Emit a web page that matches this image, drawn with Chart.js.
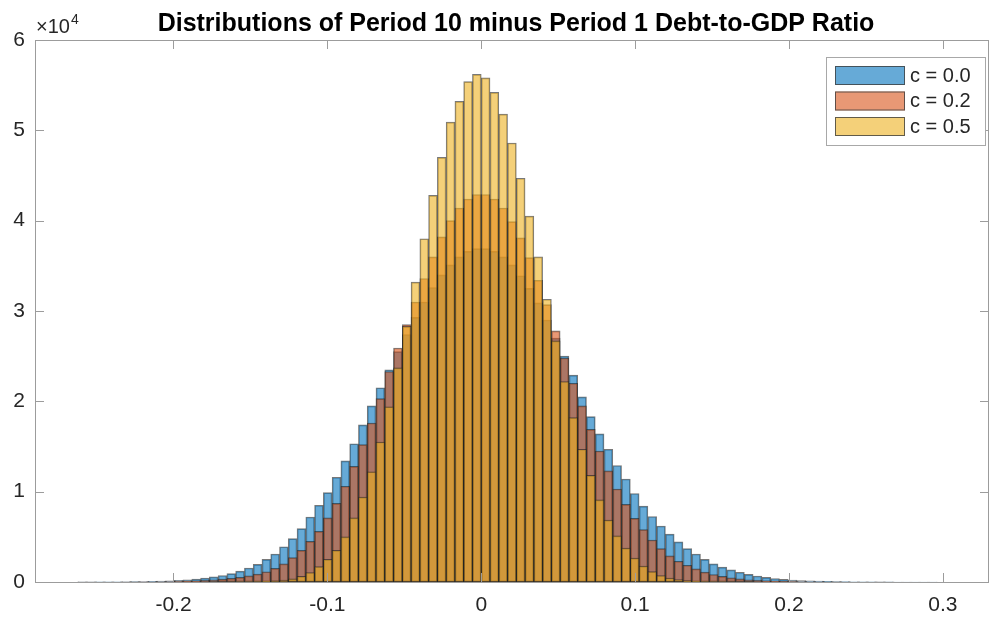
<!DOCTYPE html>
<html>
<head>
<meta charset="utf-8">
<title>Period 10 minus Period 1 Debt-to-GDP</title>
<script src="https://cdn.jsdelivr.net/npm/chart.js@4.4.1/dist/chart.umd.min.js"></script>
<style>
  html, body { margin: 0; padding: 0; background: #fff; }
  #myChart { display: block; }
</style>
</head>
<body>
<canvas id="myChart" width="992" height="617"></canvas>
<script>
"use strict"

// histogram bin centres, bin width 0.0057
const binCenters = [
  -0.25935, -0.25365, -0.24795, -0.24225, -0.23655, -0.23085, -0.22515, -0.21945, -0.21375, -0.20805,
  -0.20235, -0.19665, -0.19095, -0.18525, -0.17955, -0.17385, -0.16815, -0.16245, -0.15675, -0.15105,
  -0.14535, -0.13965, -0.13395, -0.12825, -0.12255, -0.11685, -0.11115, -0.10545, -0.09975, -0.09405,
  -0.08835, -0.08265, -0.07695, -0.07125, -0.06555, -0.05985, -0.05415, -0.04845, -0.04275, -0.03705,
  -0.03135, -0.02565, -0.01995, -0.01425, -0.00855, -0.00285,
  0.00285, 0.00855, 0.01425, 0.01995, 0.02565, 0.03135, 0.03705, 0.04275, 0.04845, 0.05415,
  0.05985, 0.06555, 0.07125, 0.07695, 0.08265, 0.08835, 0.09405, 0.09975, 0.10545, 0.11115,
  0.11685, 0.12255, 0.12825, 0.13395, 0.13965, 0.14535, 0.15105, 0.15675, 0.16245, 0.16815,
  0.17385, 0.17955, 0.18525, 0.19095, 0.19665, 0.20235, 0.20805, 0.21375, 0.21945, 0.22515,
  0.23085, 0.23655, 0.24225, 0.24795, 0.25365, 0.25935, 0.26505, 0.27075, 0.27645, 0.28215,
  0.28785, 0.29355, 0.29925, 0.30495, 0.31065
];

// counts per bin
const c00 = [
  5, 7, 10, 15, 22, 30, 42, 57, 78, 105, 140, 190, 250, 330, 430, 560, 720, 930, 1200, 1550,
  1950, 2500, 3100, 3900, 4800, 5900, 7200, 8500, 9900, 11600, 13400, 15300, 17400, 19500, 21500, 23500,
  25500, 27400, 29300, 31000, 32600, 34000, 35100, 36000, 36600, 36900,
  36900, 36600, 36000, 35100, 33900, 32500, 30900, 29000, 27000, 25000, 22900, 20500, 18300, 16400,
  14700, 12900, 11400, 9800, 8400, 7250, 6200, 5300, 4450, 3700, 3100, 2500, 2000, 1650, 1350, 1080,
  850, 660, 510, 390, 300, 225, 170, 125, 92, 66, 48, 34, 24, 17, 12, 8, 6, 4, 3, 2, 1, 1, 0, 0, 0
];
const c02 = [
  1, 1, 2, 3, 4, 6, 9, 14, 21, 31, 45, 65, 92, 130, 180, 240, 310, 400, 520, 680,
  880, 1130, 1500, 2000, 2700, 3500, 4500, 5600, 7100, 8700, 10600, 12800, 15200, 17600, 20300, 23300,
  25900, 28500, 31000, 33600, 36000, 38200, 40000, 41400, 42400, 42900,
  42900, 42400, 41400, 39900, 38100, 35900, 33400, 30700, 27800, 24800, 22000, 19500, 16900, 14500,
  12300, 10300, 8600, 7050, 5800, 4650, 3700, 2900, 2300, 1850, 1450, 1100, 830, 620, 460, 340,
  250, 180, 130, 92, 65, 45, 31, 21, 14, 9, 6, 4, 3, 2, 1, 1, 0, 0, 0, 0, 0, 0, 0, 0, 0
];
const c05 = [
  0, 0, 0, 0, 0, 0, 0, 0, 0, 0, 0, 0, 0, 0, 0, 1, 3, 6, 12, 22,
  40, 70, 120, 200, 350, 620, 1050, 1700, 2500, 3500, 5000, 7100, 9400, 12200, 15500, 19400,
  23700, 28300, 33200, 38000, 42800, 47000, 50900, 53200, 55400, 56200,
  55800, 54200, 51800, 48600, 44700, 40500, 36000, 31300, 26700, 22200, 18200, 14700, 11800, 9100,
  6850, 5100, 3750, 2650, 1750, 1150, 720, 440, 260, 150, 85, 46, 24, 12, 6, 3,
  1, 0, 0, 0, 0, 0, 0, 0, 0, 0, 0, 0, 0, 0, 0, 0, 0, 0, 0, 0, 0, 0, 0, 0, 0
];

const seriesNames = ['c = 0.0', 'c = 0.2', 'c = 0.5'];
const xTicks = [-0.2, -0.1, 0, 0.1, 0.2, 0.3];
const xTickLabels = ['-0.2', '-0.1', '0', '0.1', '0.2', '0.3'];
const yTicks = [0, 10000, 20000, 30000, 40000, 50000, 60000];
const yTickLabels = ['0', '1', '2', '3', '4', '5', '6'];

const FONT = '"Liberation Sans", Arial, Helvetica, sans-serif';
const AXIS_GREY = '#9c9c9c';
const TEXT_GREY = '#262626';

function toPoints(values) {
  return binCenters.map((x, i) => ({x: x, y: values[i]}));
}

// axes box, inward ticks, title, exponent and legend the way matlab draws them
const matlabLook = {
  id: 'matlabLook',
  afterDraw(chart) {
    const ctx = chart.ctx;
    const a = chart.chartArea;
    const xs = chart.scales.x;
    const ys = chart.scales.y;
    ctx.save();

    ctx.strokeStyle = AXIS_GREY;
    ctx.lineWidth = 1;
    ctx.strokeRect(a.left + 0.5, a.top + 0.5, a.right - a.left - 1, a.bottom - a.top);
    ctx.beginPath();
    xTicks.forEach(v => {
      const px = Math.round(xs.getPixelForValue(v)) + 0.5;
      ctx.moveTo(px, a.bottom); ctx.lineTo(px, a.bottom - 9);
      ctx.moveTo(px, a.top); ctx.lineTo(px, a.top + 9);
    });
    yTicks.forEach(v => {
      const py = Math.round(ys.getPixelForValue(v)) + 0.5;
      ctx.moveTo(a.left, py); ctx.lineTo(a.left + 9, py);
      ctx.moveTo(a.right, py); ctx.lineTo(a.right - 9, py);
    });
    ctx.stroke();

    // title
    ctx.fillStyle = '#000';
    ctx.font = 'bold 25px ' + FONT;
    ctx.textAlign = 'center';
    ctx.textBaseline = 'alphabetic';
    ctx.fillText('Distributions of Period 10 minus Period 1 Debt-to-GDP Ratio', (a.left + a.right) / 2 + 4, 31);

    // x10^4 above the y axis
    ctx.fillStyle = TEXT_GREY;
    ctx.textAlign = 'left';
    ctx.font = '20px ' + FONT;
    ctx.fillText('\u00d710', a.left + 1, 33);
    const w = ctx.measureText('\u00d710').width;
    ctx.font = '14px ' + FONT;
    ctx.fillText('4', a.left + 2 + w, 24);

    // legend
    const lx = a.right - 163, ly = a.top + 17, lw = 159, lh = 88;
    ctx.fillStyle = '#fff';
    ctx.fillRect(lx, ly, lw, lh);
    ctx.strokeStyle = '#a8a8a8';
    ctx.strokeRect(lx + 0.5, ly + 0.5, lw, lh);
    chart.data.datasets.forEach((ds, i) => {
      const ry = ly + 9 + i * 25.5;
      ctx.fillStyle = ds.backgroundColor;
      ctx.fillRect(lx + 9, ry, 70, 19);
      ctx.strokeStyle = 'rgba(60,60,60,0.8)';
      ctx.strokeRect(lx + 9.5, ry + 0.5, 69, 18);
      ctx.fillStyle = TEXT_GREY;
      ctx.font = '20px ' + FONT;
      ctx.textBaseline = 'middle';
      ctx.fillText(ds.label, lx + 84, ry + 10);
    });
    ctx.restore();
  }
};

let myChart = document.getElementById('myChart').getContext('2d');

let histChart = new Chart(myChart, {
  type: 'bar',
  data: {
    datasets: [
      {label: seriesNames[0], data: toPoints(c00), backgroundColor: 'rgba(0,114,189,0.6)', order: 3},
      {label: seriesNames[1], data: toPoints(c02), backgroundColor: 'rgba(217,83,25,0.6)', order: 2},
      {label: seriesNames[2], data: toPoints(c05), backgroundColor: 'rgba(237,177,32,0.6)', order: 1}
    ]
  },
  options: {
    responsive: false,
    animation: false,
    devicePixelRatio: 1,
    layout: {padding: {top: 40, right: 3, left: 0, bottom: 0}},
    datasets: {
      bar: {
        grouped: false,
        barPercentage: 1,
        categoryPercentage: 1,
        borderWidth: 1,
        borderColor: 'rgba(30,30,30,0.6)',
        borderSkipped: false
      }
    },
    plugins: {
      legend: {display: false},
      title: {display: false},
      tooltip: {enabled: false}
    },
    scales: {
      x: {
        type: 'linear',
        offset: false,
        min: -0.29,
        max: 0.33,
        grid: {display: false, drawTicks: false},
        border: {display: false},
        afterBuildTicks: s => { s.ticks = xTicks.map(v => ({value: v})); },
        afterFit: s => { s.height = 35; },
        ticks: {
          font: {family: FONT, size: 21},
          color: TEXT_GREY,
          padding: 11,
          maxRotation: 0,
          callback: v => xTickLabels[xTicks.indexOf(v)]
        }
      },
      y: {
        min: 0,
        max: 60000,
        grid: {display: false, drawTicks: false},
        border: {display: false},
        afterBuildTicks: s => { s.ticks = yTicks.map(v => ({value: v})); },
        afterFit: s => { s.width = 35; },
        ticks: {
          font: {family: FONT, size: 21},
          color: TEXT_GREY,
          padding: 10,
          callback: v => yTickLabels[yTicks.indexOf(v)]
        }
      }
    }
  },
  plugins: [matlabLook]
});
</script>
</body>
</html>
